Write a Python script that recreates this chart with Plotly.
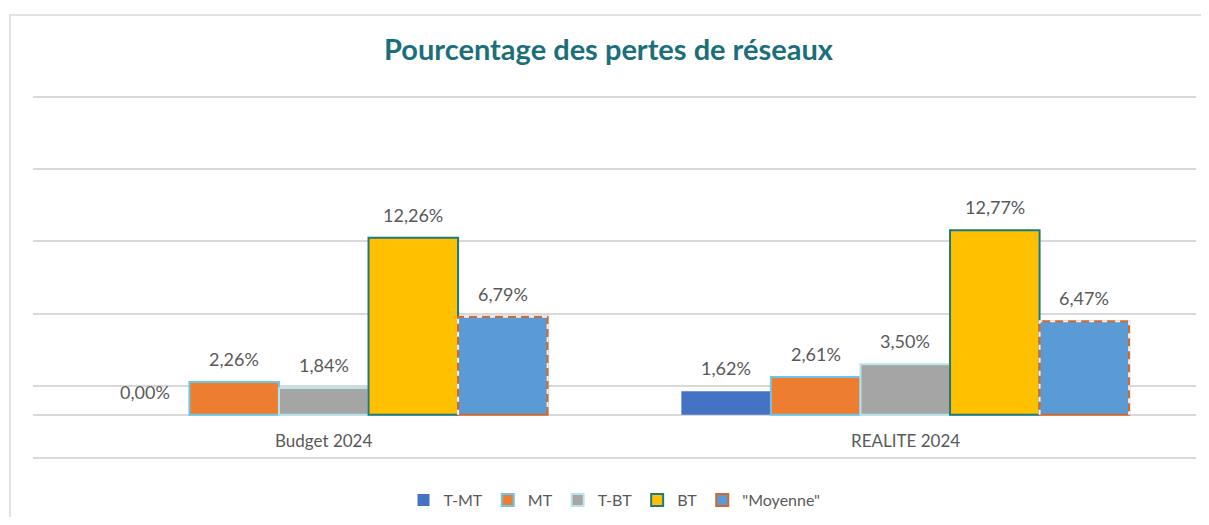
import plotly.graph_objects as go

# Données (en %)
categories = ["Budget 2024", "REALITE 2024"]
series_names = ["T-MT", "MT", "T-BT", "BT", '"Moyenne"']
t_mt = [0.00, 1.62]
mt = [2.26, 2.61]
t_bt = [1.84, 3.50]
bt = [12.26, 12.77]
moyenne = [6.79, 6.47]

fill_colors = ["#4472C4", "#ED7D31", "#A5A5A5", "#FFC000", "#5B9BD5"]
line_colors = ["#4472C4", "#6CC6E6", "#B7E3EC", "#1A7A80", "#D0692E"]
line_widths = [0, 2, 2, 2, 2]

values = [t_mt, mt, t_bt, bt, moyenne]
x_idx = list(range(len(categories)))
bar_w = 0.154
start = -bar_w * len(values) / 2


def fmt(v):
    return f"{v:.2f}%".replace(".", ",")


fig = go.Figure()
for k, (name, vals) in enumerate(zip(series_names, values)):
    fig.add_trace(go.Bar(
        x=x_idx, y=vals, name=name,
        width=bar_w, offset=start + k * bar_w,
        marker=dict(color=fill_colors[k],
                    line=dict(color=line_colors[k], width=line_widths[k])),
    ))
    # étiquettes de valeur au-dessus des barres
    for i, v in zip(x_idx, vals):
        fig.add_annotation(x=i + start + (k + 0.5) * bar_w, y=v, xref="x", yref="y",
                           text=fmt(v), showarrow=False, yanchor="bottom", yshift=10,
                           font=dict(size=18, color="#595959"))

# contour pointillé de la série "Moyenne" (tirets clairs par-dessus la bordure orange)
off = start + 4 * bar_w
for i, v in zip(x_idx, moyenne):
    fig.add_trace(go.Scatter(
        x=[i + off, i + off, i + off + bar_w, i + off + bar_w],
        y=[0, v, v, 0], mode="lines",
        line=dict(color="#EEF4FA", width=2, dash="5px,8px"),
        showlegend=False, hoverinfo="skip",
    ))

for i, c in zip(x_idx, categories):
    fig.add_annotation(x=i, y=-1.8, xref="x", yref="y", text=c, showarrow=False,
                       font=dict(size=17, color="#595959"))

# cadre du graphique
fig.add_shape(type="rect", xref="paper", yref="paper",
              x0=-0.0198, x1=1.03, y0=-0.1, y1=1.184,
              line=dict(color="#D9D9D9", width=1.5), layer="below")

fig.update_layout(
    width=1201, height=509,
    margin=dict(l=25, r=13, t=85, b=0),
    paper_bgcolor="white", plot_bgcolor="white",
    barmode="overlay",
    font=dict(family="Lato, Open Sans, sans-serif", color="#595959"),
    title=dict(text="<b>Pourcentage des pertes de réseaux</b>", x=0.5, xanchor="center",
               y=0.917, yanchor="middle",
               font=dict(size=29, color="#1B6F7A", family="Lato, Open Sans, sans-serif")),
    xaxis=dict(range=[-0.5, 1.5], showticklabels=False, showgrid=False, zeroline=False,
               showline=False, fixedrange=True),
    yaxis=dict(range=[-7.086, 22.277], tickvals=[-3, 2, 7, 12, 17, 22], showticklabels=False,
               showgrid=True, gridcolor="#D9D9D9", gridwidth=1.5,
               zeroline=True, zerolinecolor="#D9D9D9", zerolinewidth=1.5, showline=False),
    legend=dict(orientation="h", x=0.5, xanchor="center", y=0.04, yanchor="middle",
                font=dict(size=16, color="#595959"), itemwidth=30, traceorder="normal",
                bgcolor="rgba(0,0,0,0)"),
    showlegend=True,
)

fig.write_html("out.html")
